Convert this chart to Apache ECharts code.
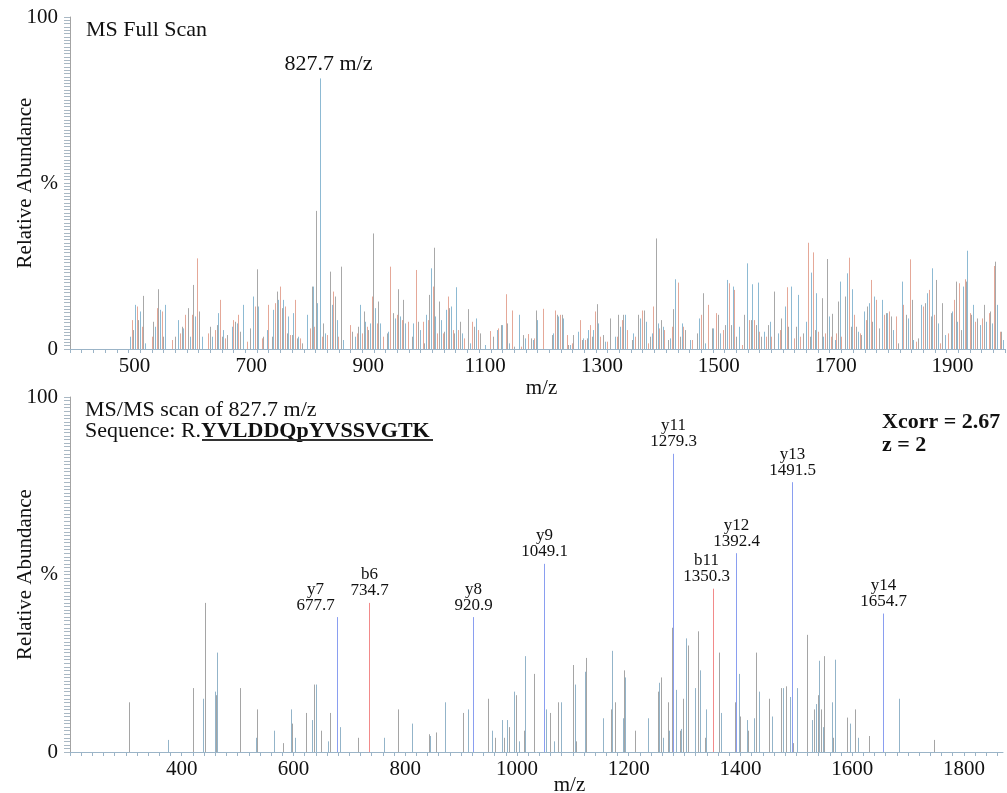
<!DOCTYPE html>
<html>
<head>
<meta charset="utf-8">
<script src="https://cdn.jsdelivr.net/npm/echarts@6/dist/echarts.min.js"></script>
<style>
  html, body { margin: 0; padding: 0; background: #fff; }
  #chart { width: 1007px; height: 793px; }
</style>
</head>
<body>
<div id="chart"></div>
<script>
  // full scan peaks, [m/z, relative abundance %]
  const fullScanPeaks = [
    [502, 3.7], [505.5, 8.7], [508.3, 5.7], [511.2, 13.3], [514, 12.8], [516.9, 8.7], [519.7, 11.3], [522.6, 6.7],
    [525.4, 16.0], [528.3, 1.7], [539.7, 3.7], [542.5, 8.2], [545.4, 6.7], [548.2, 12.3], [551.1, 18.0], [553.9, 11.8],
    [556.8, 11.3], [559.6, 3.7], [562.5, 13.3], [573.9, 2.7], [579.6, 3.7], [585.3, 8.7], [588.2, 4.7], [591, 6.7],
    [593.9, 6.2], [596.7, 10.3], [602.4, 12.3], [605.3, 3.7], [608.1, 10.3], [611, 19.3], [613.8, 9.8], [617.8, 27.3],
    [621.2, 11.3], [625.2, 3.7], [636.6, 4.7], [639.5, 6.7], [642.3, 3.7], [648, 5.7], [650.9, 7.2], [653.7, 10.8],
    [656.6, 14.8], [659.4, 3.7], [662.3, 5.7], [665.1, 3.2], [668, 4.2], [676.5, 6.7], [679.4, 8.7], [682.3, 8.2],
    [685.1, 7.7], [688, 10.3], [690.8, 5.2], [696.5, 13.3], [702.2, 2.2], [707.9, 6.2], [713.6, 15.8], [716.5, 12.8],
    [719.3, 24.0], [722.2, 12.8], [727.9, 3.2], [730.7, 3.7], [736.4, 5.7], [739.3, 13.3], [745, 3.7], [747.9, 11.8],
    [750.7, 13.8], [753.6, 17.3], [756.4, 14.8], [759.3, 18.8], [762.1, 12.3], [765, 14.8], [767.8, 12.8], [770.7, 4.7],
    [773.5, 9.8], [776.4, 4.2], [779.2, 4.2], [782.1, 10.8], [784.9, 14.8], [787.8, 3.2], [790.6, 3.7], [793.5, 3.2],
    [796.3, 1.7], [804.9, 10.3], [810.6, 6.2], [813.4, 18.8], [816.3, 18.8], [818, 6.7], [820.3, 41.6], [823.1, 13.8],
    [830.6, 3.7], [833.4, 7.7], [836.3, 4.7], [839.1, 4.2], [844.8, 23.3], [847.7, 13.3], [850.5, 17.3], [853.4, 15.8],
    [856.2, 8.7], [859.1, 3.7], [863.6, 24.8], [867.6, 2.7], [879, 7.2], [881.9, 5.2], [887.6, 3.7], [890.4, 4.7],
    [893.3, 6.7], [896.1, 13.3], [899, 4.7], [902.4, 11.3], [904.7, 8.2], [907.5, 6.7], [910.4, 5.7], [913.2, 7.7],
    [916.1, 15.8], [918.9, 34.8], [921.8, 12.3], [924.7, 7.7], [927.5, 14.3], [930.4, 7.7], [936.1, 3.7], [941.8, 4.7],
    [944.6, 5.2], [948.1, 24.8], [953.2, 10.8], [956, 9.2], [958.9, 10.3], [961.7, 18.0], [964.6, 9.8], [967.4, 8.7],
    [970.3, 14.8], [973.1, 7.7], [978.8, 8.2], [984.5, 3.7], [987.4, 7.7], [991.4, 23.8], [996, 8.2], [998.8, 5.7],
    [1003.4, 8.2], [1005.7, 1.7], [1009.1, 10.3], [1013.1, 8.7], [1014.8, 16.3], [1017.6, 24.3], [1020.5, 18.8], [1022.8, 30.5],
    [1025, 9.8], [1027.3, 4.7], [1031.9, 14.3], [1034.7, 8.7], [1037.6, 4.7], [1040.4, 5.2], [1043.3, 11.8], [1046.1, 15.8],
    [1049, 12.3], [1051.8, 12.8], [1054.7, 5.7], [1057.5, 4.7], [1060.4, 18.6], [1063.3, 5.7], [1067.2, 8.2], [1070.1, 4.7],
    [1074.7, 3.2], [1081.5, 12.0], [1084.4, 1.7], [1087.2, 8.2], [1091.2, 6.7], [1094.6, 9.2], [1097.5, 5.7], [1101.5, 4.7],
    [1110, 1.2], [1118.6, 5.4], [1123.1, 3.7], [1130, 5.7], [1132.8, 6.2], [1136.8, 7.2], [1139.1, 7.2], [1145.4, 16.5],
    [1148.2, 7.7], [1151.1, 1.7], [1156.8, 11.6], [1159.6, 0.7], [1168.2, 10.3], [1171, 0.7], [1175.6, 4.2], [1178.5, 3.2],
    [1184.2, 4.5], [1188.1, 3.2], [1191.6, 2.7], [1193.9, 3.2], [1196.7, 11.6], [1199.6, 8.7], [1208.7, 12.1], [1224.1, 4.2],
    [1226.9, 4.7], [1229.8, 11.6], [1232.6, 10.3], [1235.5, 9.8], [1238.4, 10.3], [1241.2, 10.3], [1244.1, 9.2], [1249.8, 4.2],
    [1252.6, 1.2], [1255.5, 1.2], [1258.3, 1.7], [1261.2, 4.2], [1269.7, 5.2], [1272.6, 8.7], [1275.4, 2.7], [1278.3, 3.2],
    [1281.1, 2.7], [1284, 3.2], [1286.8, 5.7], [1289.7, 7.2], [1292.5, 3.7], [1295.4, 5.7], [1298.2, 11.3], [1301.1, 13.5],
    [1303.9, 7.7], [1306.8, 3.7], [1312.5, 4.2], [1315.3, 2.2], [1318.2, 2.2], [1323.9, 9.2], [1332.5, 3.7], [1335.3, 3.7],
    [1338.2, 10.3], [1341, 6.7], [1343.9, 8.7], [1346.7, 10.3], [1349.6, 10.3], [1352.4, 5.7], [1361, 2.7], [1363.8, 4.7],
    [1366.7, 3.7], [1371.2, 10.3], [1375.2, 9.2], [1379.2, 11.6], [1382.6, 11.6], [1385.5, 8.2], [1389.5, 1.7], [1392.3, 3.7],
    [1395.2, 4.7], [1398, 12.8], [1402.6, 33.3], [1405.5, 7.7], [1408.3, 6.2], [1411.2, 8.7], [1414, 6.7], [1416.9, 5.7],
    [1423.7, 2.7], [1426.6, 3.2], [1429.4, 6.7], [1432.3, 12.0], [1435.1, 21.0], [1439.7, 20.0], [1443.7, 3.7], [1446.5, 7.7],
    [1449.4, 6.7], [1452.2, 5.7], [1460.8, 2.7], [1463.6, 2.7], [1472.2, 4.7], [1476.2, 9.2], [1479, 10.3], [1483.6, 16.8],
    [1486.4, 1.7], [1492.1, 13.3], [1497.8, 6.2], [1500.6, 6.2], [1506.3, 10.8], [1509.2, 10.3], [1512, 4.7], [1517.7, 5.7],
    [1520.6, 7.2], [1524.6, 20.8], [1528, 19.8], [1530.8, 7.2], [1533.7, 18.8], [1536.5, 17.8], [1539.4, 3.7], [1545.1, 6.7],
    [1549.1, 1.2], [1553.1, 10.3], [1558.8, 25.8], [1562.2, 8.7], [1565.1, 8.7], [1567.9, 19.5], [1570.8, 8.7], [1573.6, 7.2],
    [1576.5, 20.0], [1579.3, 5.2], [1583.3, 3.7], [1587.9, 5.2], [1590.7, 3.7], [1594.7, 7.2], [1597.6, 8.2], [1600.4, 3.7],
    [1604.4, 17.3], [1611.8, 4.7], [1614.7, 5.7], [1617.5, 9.2], [1623.2, 12.8], [1626.1, 18.6], [1628.9, 6.7], [1634.6, 18.8],
    [1638.6, 3.2], [1642.1, 6.7], [1646, 16.3], [1648.9, 3.7], [1654.6, 4.7], [1659.2, 8.2], [1663.1, 32.0], [1666, 3.7],
    [1668.8, 23.0], [1671.7, 29.1], [1674.6, 5.7], [1677.4, 16.8], [1680.3, 5.2], [1686, 15.3], [1688.8, 3.7], [1691.7, 4.7],
    [1695.7, 27.1], [1698.5, 9.8], [1701.4, 3.7], [1704.8, 10.6], [1708.8, 2.7], [1711.6, 4.7], [1714.5, 14.3], [1717.3, 20.3],
    [1720.2, 3.7], [1727, 15.8], [1729.9, 22.8], [1732.7, 27.5], [1736.2, 6.7], [1738.4, 18.0], [1741.9, 10.3], [1744.7, 6.7],
    [1748.7, 5.2], [1751.6, 4.7], [1754.4, 4.2], [1759, 11.3], [1761.8, 8.7], [1764.7, 12.8], [1767.5, 13.8], [1770.4, 20.8],
    [1773.2, 8.2], [1776.1, 15.8], [1778.9, 14.8], [1784.6, 6.2], [1790.3, 14.8], [1793.2, 10.3], [1796, 10.8], [1798.9, 10.8],
    [1801.8, 11.3], [1804.6, 9.8], [1807.5, 5.7], [1813.2, 9.8], [1817.2, 1.7], [1822.9, 20.3], [1825.7, 13.3], [1831.4, 10.3],
    [1834.3, 9.2], [1837.1, 27.0], [1840, 14.8], [1842.8, 2.7], [1848.5, 2.2], [1851.4, 3.2], [1857.1, 13.3], [1859.9, 12.8],
    [1863.9, 13.8], [1867.3, 16.8], [1869.6, 17.8], [1873, 9.8], [1875.9, 24.3], [1878.7, 10.3], [1881.6, 20.8], [1885.6, 7.7],
    [1889.6, 1.7], [1893, 13.8], [1897, 4.2], [1902.7, 4.7], [1907.3, 10.8], [1910.1, 11.3], [1913, 14.8], [1915.8, 20.3],
    [1918.7, 8.2], [1921.5, 19.8], [1924.4, 5.7], [1928.4, 18.8], [1931.2, 21.0], [1934.1, 20.3], [1935.8, 29.6], [1939.8, 10.8],
    [1942.6, 10.3], [1945.5, 13.3], [1948.3, 8.2], [1952.9, 9.2], [1956.9, 7.2], [1960.9, 9.2], [1964.3, 13.3], [1968.3, 8.2],
    [1972.3, 10.8], [1975.1, 11.3], [1978, 7.7], [1981.4, 25.0], [1983.7, 26.3], [1987.1, 13.3], [1991.1, 5.2], [1994, 5.2],
    [1996.8, 2.7], [1999.7, 6.7]
  ];
  const precursorMz = 827.7;
  const precursorAbundance = 81.5;

  // MS/MS fragments that are not assigned
  const msmsPeaks = [
    [305, 14], [375, 3.4], [420, 18], [438, 15], [441, 42], [459, 17], [462, 16], [464, 28],
    [504, 18], [533, 4], [535, 12], [565, 6], [582, 2.5], [595, 12], [598, 8], [602, 4],
    [623, 11], [633, 9], [636, 19], [641, 19], [650, 6], [662, 3], [665, 11], [683, 7],
    [715, 4], [762, 4], [787, 12], [813, 8], [842, 5], [844, 4.5], [856, 5.5], [871, 14],
    [904, 11], [913, 12], [949, 15], [955, 6], [961, 4], [973, 9], [977, 4], [982, 9],
    [986, 7], [995, 17], [998, 16], [1004, 3], [1012, 6], [1015, 27], [1031, 22], [1052, 12],
    [1060, 11], [1066, 3], [1074, 14], [1078, 14], [1101, 24.5], [1104, 19], [1106, 3], [1121, 22.6],
    [1124, 26.5], [1154, 9.5], [1168, 12], [1171, 28.5], [1175, 14], [1189, 9.5], [1191, 23], [1194, 21],
    [1212, 6], [1234, 9.5], [1252, 17], [1255, 19.5], [1258, 21], [1262, 4], [1270, 14], [1273, 6],
    [1277, 35], [1284, 17.5], [1291, 6], [1294, 6.5], [1298, 15], [1303, 32], [1306, 30], [1318, 18],
    [1324, 34], [1328, 23], [1336, 4], [1339, 12], [1362, 28], [1365, 11], [1391, 14], [1397, 22],
    [1400, 10], [1411, 9], [1413, 6], [1425, 9.5], [1427, 28], [1433, 17], [1451, 15], [1457, 10],
    [1473, 18], [1476, 18], [1482, 18.5], [1488, 15.5], [1494, 2.5], [1502, 18], [1520, 33], [1529, 9],
    [1532, 12], [1535, 13.5], [1538, 16], [1541, 25.7], [1544, 12], [1547, 7], [1550, 27], [1564, 14],
    [1566, 4], [1569, 26], [1590, 9.7], [1596, 8], [1605, 12], [1611, 4], [1631, 4.5], [1683, 15],
    [1746, 3.4]
  ];

  // assigned b / y ions
  const msmsIonNames = ['y7', 'b6', 'y8', 'y9', 'y11', 'b11', 'y12', 'y13', 'y14'];
  const msmsIonMz = [677.7, 734.7, 920.9, 1049.1, 1279.3, 1350.3, 1392.4, 1491.5, 1654.7];
  const msmsIonAbundance = [38, 42, 38, 53, 84, 46, 56, 76, 39];

  const fullScanTicks = [500, 700, 900, 1100, 1300, 1500, 1700, 1900];
  const msmsTicks = [400, 600, 800, 1000, 1200, 1400, 1600, 1800];

  const SERIF = '"Liberation Serif", "DejaVu Serif", serif';
  const INK = '#111';
  const fullScanColors = ['#8dbad3', '#e5a898', '#a8a8a8'];
  const msmsColors = ['#a5a5a5', '#93b4c9'];
  const ionColors = {y: '#8a9ef0', b: '#f28a8a'};
  const labelNudge = {y7: -22, b11: -7, precursor: 8};

  const chart = echarts.init(document.getElementById('chart'));

  function ticksEvery(from, to, step) {
    const out = [];
    for (let v = from; v <= to; v += step) {
      out.push(v);
    }
    return out;
  }

  function stickShape(api) {
    const base = api.coord([api.value(0), 0]);
    const top = api.coord([api.value(0), api.value(1)]);
    const x = Math.round(base[0]) + 0.5;
    return {x: x, y0: base[1], y1: top[1]};
  }

  function stick(colors) {
    return (params, api) => {
      const s = stickShape(api);
      return {
        type: 'line',
        shape: {x1: s.x, y1: s.y0, x2: s.x, y2: s.y1},
        style: {stroke: colors[params.dataIndex % colors.length], lineWidth: 1}
      };
    };
  }

  // stick with a text label above it; keys pick colour and nudge
  function labelledStick(keys, texts, colorOf, fontSize) {
    return (params, api) => {
      const s = stickShape(api);
      const key = keys[params.dataIndex];
      return {
        type: 'group',
        children: [
          {
            type: 'line',
            shape: {x1: s.x, y1: s.y0, x2: s.x, y2: s.y1},
            style: {stroke: colorOf(key), lineWidth: 1}
          },
          {
            type: 'text',
            x: s.x + (labelNudge[key] || 0),
            y: s.y1 - 4,
            style: {
              text: texts[params.dataIndex],
              font: fontSize + 'px ' + SERIF,
              fill: INK,
              align: 'center',
              verticalAlign: 'bottom',
              lineHeight: fontSize - 1
            }
          }
        ]
      };
    };
  }

  function xAxisFor(gridIndex, min, max, labels, nameGap, namePadding, labelPadding) {
    return {
      type: 'value',
      gridIndex: gridIndex,
      min: min,
      max: max,
      name: 'm/z',
      nameLocation: 'middle',
      nameGap: nameGap,
      nameMoveOverlap: false,
      nameTextStyle: {fontFamily: SERIF, fontSize: 21, color: INK, padding: namePadding},
      axisLine: {lineStyle: {color: '#9bb4c7', width: 1}},
      axisTick: {show: true, customValues: ticksEvery(min, max, 20), length: 4, lineStyle: {color: '#9bb4c7'}},
      axisLabel: {
        customValues: labels,
        formatter: v => String(v),
        fontFamily: SERIF,
        fontSize: 21,
        color: INK,
        margin: 7,
        padding: labelPadding
      },
      splitLine: {show: false}
    };
  }

  function yAxisFor(gridIndex) {
    return {
      type: 'value',
      gridIndex: gridIndex,
      min: 0,
      max: 100,
      name: 'Relative Abundance',
      nameLocation: 'middle',
      nameGap: 34,
      nameMoveOverlap: false,
      nameTextStyle: {fontFamily: SERIF, fontSize: 21, color: INK},
      axisLine: {show: true, lineStyle: {color: '#a3a3a3', width: 1}},
      axisTick: {show: true, customValues: ticksEvery(0, 100, 1), length: 6, lineStyle: {color: '#a9b8c4'}},
      axisLabel: {
        customValues: [0, 50, 100],
        formatter: v => (v === 50 ? '%' : String(v)),
        fontFamily: SERIF,
        fontSize: 21,
        color: INK,
        margin: 12,
        padding: [10, 0, 0, 0]
      },
      splitLine: {show: false}
    };
  }

  const ionData = msmsIonMz.map((mz, i) => [mz, msmsIonAbundance[i]]);
  const ionLabels = msmsIonNames.map((n, i) => n + '\n' + msmsIonMz[i].toFixed(1));

  const option = {
    backgroundColor: '#fff',
    animation: false,
    grid: [
      {left: 70, right: 2, top: 17, height: 332, outerBoundsMode: 'none', containLabel: false},
      {left: 70, right: 4, top: 397, height: 355, outerBoundsMode: 'none', containLabel: false}
    ],
    xAxis: [
      xAxisFor(0, 400, 2000, fullScanTicks, 29, [0, 0, 0, 8], [0, 0, 0, 12]),
      xAxisFor(1, 200, 1870, msmsTicks, 23, [0, 0, 0, 66], 0)
    ],
    yAxis: [yAxisFor(0), yAxisFor(1)],
    series: [
      {
        type: 'custom',
        name: 'Full scan',
        xAxisIndex: 0,
        yAxisIndex: 0,
        encode: {x: 0, y: 1},
        silent: true,
        clip: true,
        data: fullScanPeaks,
        renderItem: stick(fullScanColors)
      },
      {
        type: 'custom',
        name: 'Precursor',
        xAxisIndex: 0,
        yAxisIndex: 0,
        encode: {x: 0, y: 1},
        silent: true,
        data: [[precursorMz, precursorAbundance]],
        renderItem: labelledStick(['precursor'], [precursorMz.toFixed(1) + ' m/z'], () => '#8dbad3', 22)
      },
      {
        type: 'custom',
        name: 'MS/MS',
        xAxisIndex: 1,
        yAxisIndex: 1,
        encode: {x: 0, y: 1},
        silent: true,
        clip: true,
        data: msmsPeaks,
        renderItem: stick(msmsColors)
      },
      {
        type: 'custom',
        name: 'Ions',
        xAxisIndex: 1,
        yAxisIndex: 1,
        encode: {x: 0, y: 1},
        silent: true,
        data: ionData,
        renderItem: labelledStick(msmsIonNames, ionLabels, n => ionColors[n[0]], 17)
      }
    ],
    graphic: [
      {type: 'text', left: 86, top: 19, style: {text: 'MS Full Scan', font: '22px ' + SERIF, fill: INK}},
      {type: 'text', left: 85, top: 399, style: {text: 'MS/MS scan of 827.7 m/z', font: '22px ' + SERIF, fill: INK}},
      {
        type: 'text',
        left: 85,
        top: 420,
        style: {
          text: '{n|Sequence: R.}{b|YVLDDQpYVSSVGTK}',
          rich: {
            n: {font: '22px ' + SERIF, fill: INK},
            b: {font: 'bold 22px ' + SERIF, fill: INK}
          }
        }
      },
      {type: 'rect', left: 202, top: 439, shape: {width: 231, height: 2}, style: {fill: '#333'}},
      {type: 'text', left: 882, top: 411, style: {text: 'Xcorr = 2.67', font: 'bold 22px ' + SERIF, fill: INK}},
      {type: 'text', left: 882, top: 434, style: {text: 'z = 2', font: 'bold 22px ' + SERIF, fill: INK}}
    ]
  };

  chart.setOption(option);
</script>
</body>
</html>
